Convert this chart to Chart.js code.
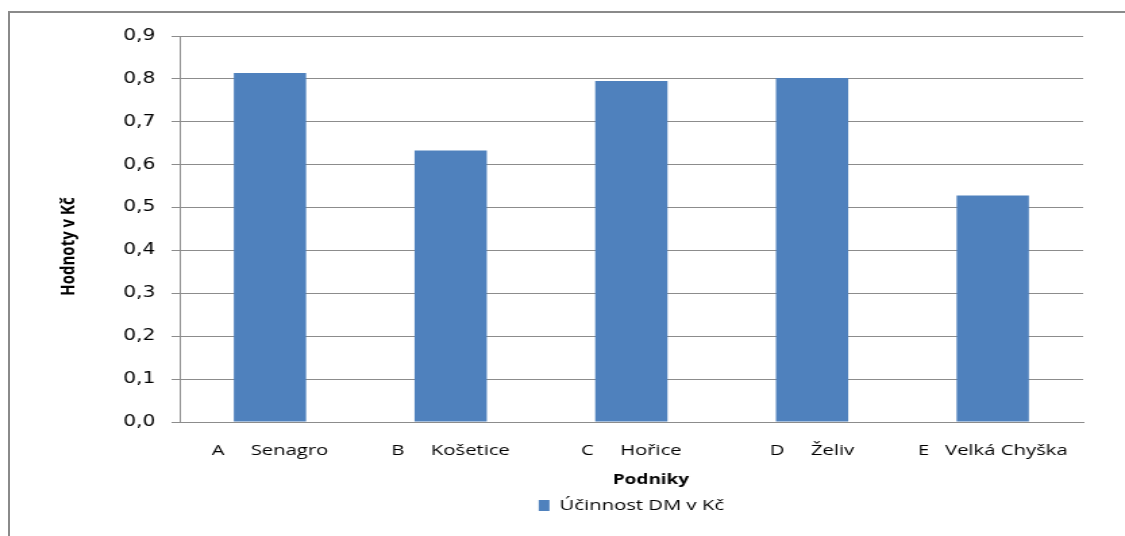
<!DOCTYPE html>
<html>
<head>
<meta charset="utf-8">
<script src="https://cdn.jsdelivr.net/npm/chart.js@4"></script>
<style>
    html, body { margin: 0; padding: 0; background: #ffffff; overflow: hidden; }
    #wrap { position: relative; width: 1125px; height: 536px; overflow: hidden; }
    #frame {
        position: absolute; left: 8px; top: 11px; width: 1200px; height: 600px;
        border-top: 2px solid #8a8a8a; border-left: 2px solid #8a8a8a;
    }
    /* the source picture is stretched sideways, so the chart is drawn narrow and widened */
    #effChart {
        position: absolute; left: 0; top: 0;
        transform: scaleX(1.3505); transform-origin: 0 0;
    }
</style>
</head>
<body>
<div id="wrap">
    <div id="frame"></div>
    <canvas id="effChart" width="833" height="536"></canvas>
</div>
<script>
// ==========================================
// DATA
// ==========================================

const companyLabels = ["A     Senagro", "B     Košetice", "C     Hořice", "D     Želiv", "E   Velká Chyška"];

const efficiencyValues = [0.814, 0.633, 0.795, 0.802, 0.528];

const seriesName = "Účinnost DM v Kč";

const yTicks = [0, 0.1, 0.2, 0.3, 0.4, 0.5, 0.6, 0.7, 0.8, 0.9];

// ==========================================
// CHART
// ==========================================

const gridGray = "#8c8c8c";

const labelFont = "'Open Sans', sans-serif";

new Chart(document.getElementById("effChart"), {

    type: "bar",

    data: {
        labels: companyLabels,
        datasets: [
            {
                label: seriesName,
                data: efficiencyValues,
                backgroundColor: "#4F81BD",
                borderWidth: 0,
                categoryPercentage: 1,
                barPercentage: 0.4,
            }
        ]
    },

    options: {
        responsive: false,
        animation: false,
        devicePixelRatio: 1,
        layout: {
            padding: { top: 36, right: 31, bottom: 13, left: 0 }
        },
        plugins: {
            tooltip: { enabled: false },
            legend: {
                position: "bottom",
                fullSize: false,
                labels: {
                    boxWidth: 8,
                    boxHeight: 11,
                    padding: 6,
                    color: "#000",
                    font: { family: labelFont, size: 15 }
                }
            }
        },
        scales: {
            x: {
                afterFit: function (scale) { scale.height = 70; },
                grid: { display: false, drawTicks: false },
                border: { color: gridGray, width: 1 },
                ticks: {
                    padding: 20,
                    color: "#000",
                    maxRotation: 0,
                    font: { family: labelFont, size: 15 }
                },
                title: {
                    display: true,
                    text: "        Podniky",
                    color: "#000",
                    padding: { top: 0, bottom: 4 },
                    font: { family: labelFont, size: 14, weight: "bold" }
                }
            },
            y: {
                min: 0,
                max: 0.9,
                afterFit: function (scale) { scale.width = 133; },
                afterBuildTicks: function (scale) {
                    scale.ticks = yTicks.map(v => ({ value: v }));
                },
                grid: { color: gridGray, lineWidth: 1, tickLength: 6 },
                border: { color: gridGray, width: 1 },
                ticks: {
                    padding: 12,
                    color: "#000",
                    font: { family: "'DejaVu Sans', sans-serif", size: 15 },
                    callback: function (value) {
                        return value.toFixed(1).replace(".", ",");
                    }
                },
                title: {
                    display: true,
                    text: "Hodnoty v Kč         ",
                    color: "#000",
                    padding: { top: 42, bottom: 0 },
                    font: { family: labelFont, size: 15, weight: "bold" }
                }
            }
        }
    }

});
</script>
</body>
</html>
